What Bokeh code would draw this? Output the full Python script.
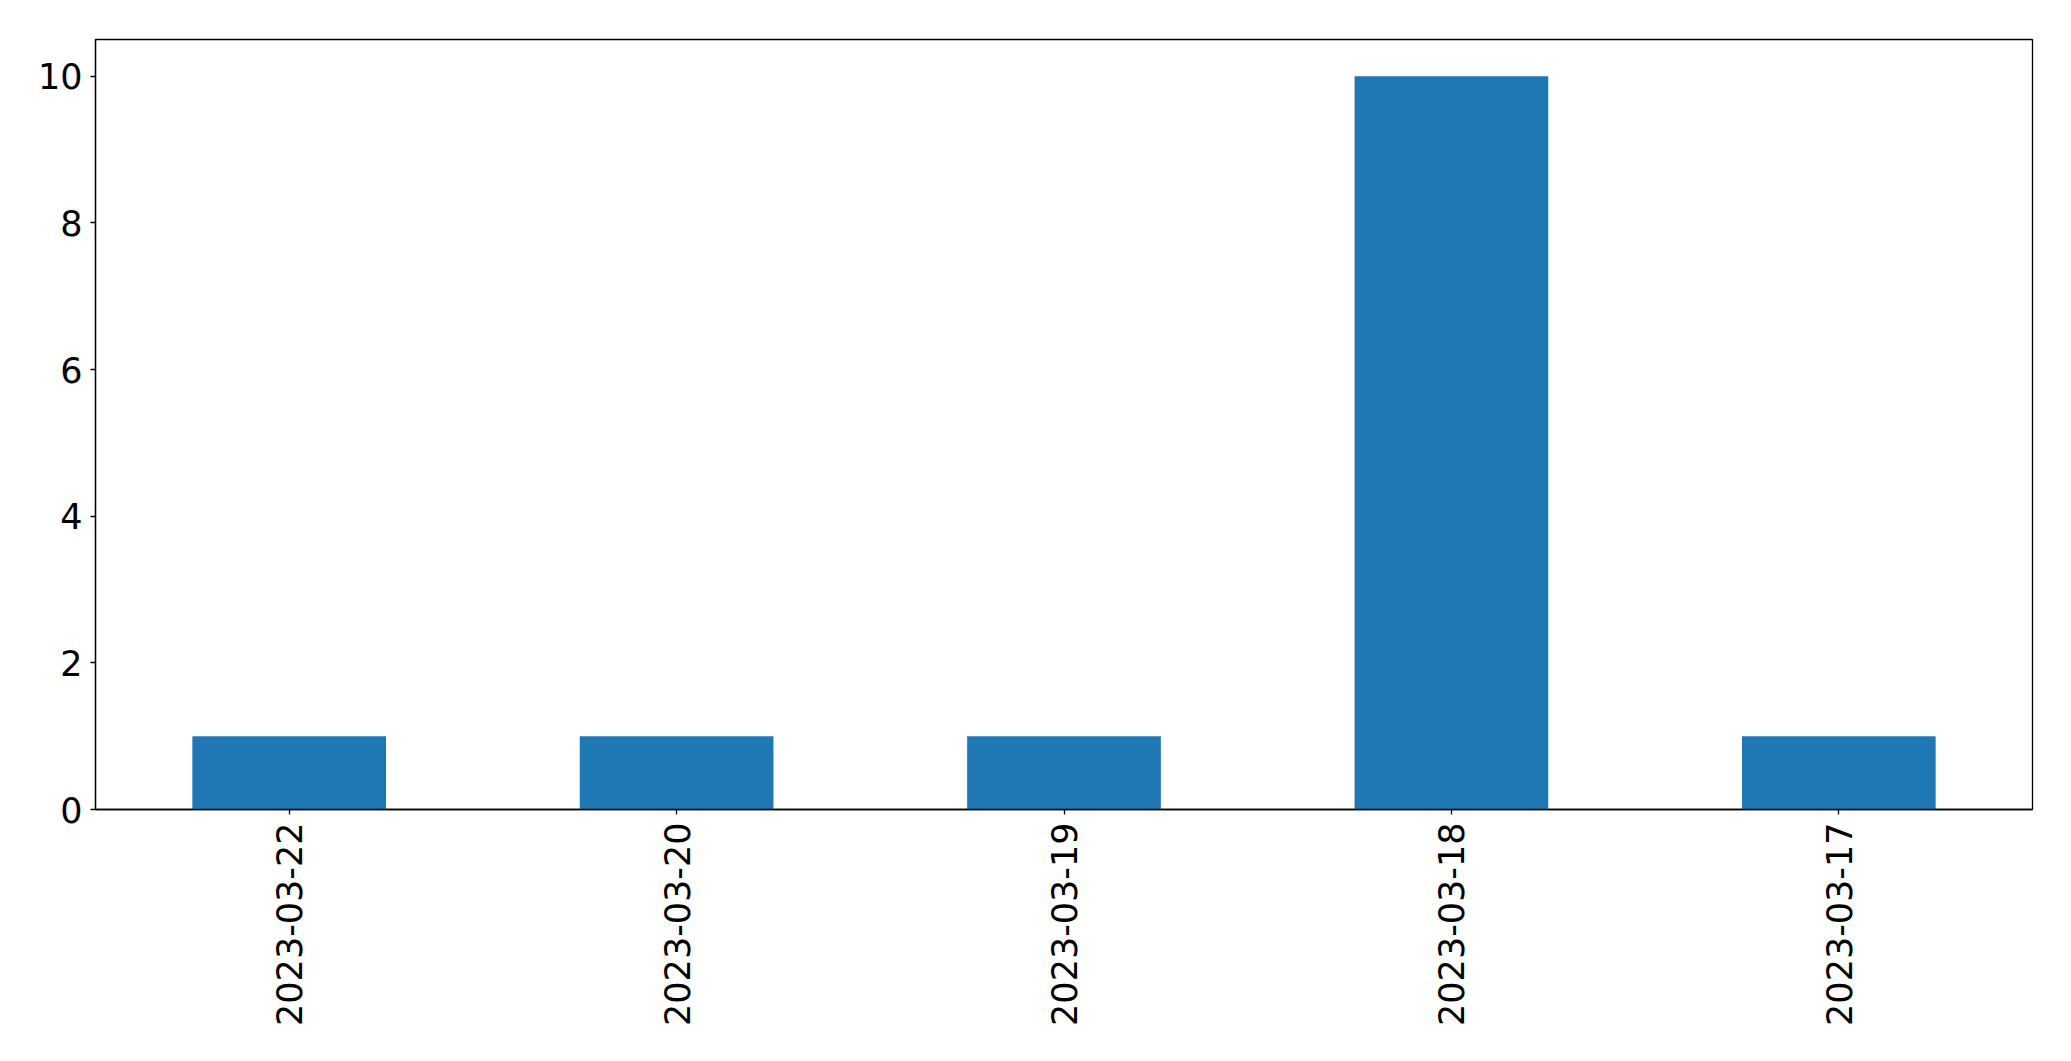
import math
from bokeh.plotting import figure
from bokeh.models import FactorRange, Range1d, FixedTicker, ColumnDataSource
from bokeh.embed import file_html
from bokeh.resources import INLINE

categories = ["2023-03-22", "2023-03-20", "2023-03-19", "2023-03-18", "2023-03-17"]
counts = [1, 1, 1, 10, 1]
y_ticks = [0, 2, 4, 6, 8, 10]

source = ColumnDataSource(data=dict(cat=categories, count=counts))

p = figure(
    x_range=FactorRange(*categories),
    y_range=Range1d(0, 10.5),
    width=2063,
    height=1053,
    output_backend="svg",
    toolbar_location=None,
    min_border_left=95,
    min_border_right=31,
    min_border_top=39,
    min_border_bottom=244,
)

p.vbar(x="cat", top="count", width=0.5, source=source,
       fill_color="#1f77b4", line_color=None)

p.xgrid.visible = False
p.ygrid.visible = False
p.outline_line_color = "black"
p.outline_line_width = 1.3
p.outline_line_alpha = 1.0

for ax in (p.xaxis, p.yaxis):
    ax.axis_line_color = "black"
    ax.axis_line_width = 1.3
    ax.major_tick_line_color = "black"
    ax.major_tick_line_width = 1.3
    ax.major_tick_out = 5
    ax.major_tick_in = 0
    ax.minor_tick_line_color = None
    ax.major_label_text_font = "DejaVu Sans"
    ax.major_label_text_font_size = "35px"
    ax.major_label_text_color = "black"
    ax.major_label_standoff = 8

p.yaxis.ticker = FixedTicker(ticks=y_ticks)
p.xaxis.major_label_orientation = math.pi / 2

open("out.html", "w").write(file_html(p, INLINE))
